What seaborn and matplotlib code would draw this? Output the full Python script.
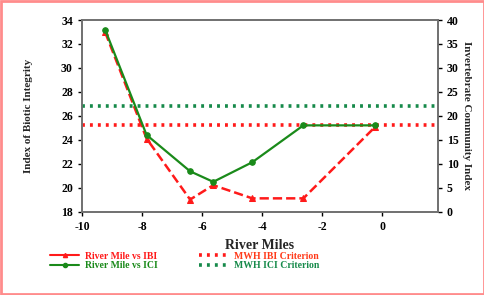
import seaborn as sns
import matplotlib
import matplotlib.pyplot as plt
import pandas as pd
from matplotlib.lines import Line2D
from matplotlib.patches import Rectangle
matplotlib.use('Agg')

river_miles = [-9.23, -7.85, -6.4, -5.63, -4.33, -2.63, -0.23]
ibi = [33.0, 24.1, 19.0, 20.2, 19.1, 19.1, 25.1]
ici = [38, 16, 8.4, 6.2, 10.3, 18, 18]
ibi_criterion = 25.2
ici_criterion = 22
x_ticks = [-10, -8, -6, -4, -2, 0]
left_ticks = [18, 20, 22, 24, 26, 28, 30, 32, 34]
right_ticks = [0, 5, 10, 15, 20, 25, 30, 35, 40]

RED = '#ff1a1a'
GREEN = '#1a8a1a'
TEAL = '#168a4a'

sns.set_style('white')
plt.rcParams['font.family'] = ['Liberation Serif', 'DejaVu Serif']
plt.rcParams['font.weight'] = 'bold'
plt.rcParams['axes.unicode_minus'] = False

df = pd.DataFrame({'mile': river_miles, 'ibi': ibi, 'ici': ici})

fig = plt.figure(figsize=(4.85, 2.95), dpi=100)
ax = fig.add_axes([0.169, 0.283, 0.734, 0.649])
ax2 = ax.twinx()

sns.lineplot(data=df, x='mile', y='ibi', ax=ax, color=RED, linestyle='--',
             linewidth=1.8, marker='^', markersize=4, markeredgecolor=RED)
sns.lineplot(data=df, x='mile', y='ici', ax=ax2, color=GREEN, linewidth=1.6,
             marker='o', markersize=4, markeredgecolor=GREEN)
dots = (0, (0.8, 1.4))
ax.axhline(ibi_criterion, color=RED, linestyle=dots, linewidth=2.6)
ax2.axhline(ici_criterion, color=TEAL, linestyle=dots, linewidth=2.6)

ax.set_xlim(-10, 1.85)
ax.set_ylim(18, 34)
ax2.set_ylim(0, 40)
ax.set_xticks(x_ticks)
ax.set_yticks(left_ticks)
ax2.set_yticks(right_ticks)

for a in (ax, ax2):
    for s in a.spines.values():
        s.set_color('#707070')
        s.set_linewidth(1.2)
    a.tick_params(labelsize=8.5, length=3, width=1, colors='black', direction='out')
    for lab in a.get_xticklabels() + a.get_yticklabels():
        lab.set_fontweight('bold')
ax.tick_params(left=True, bottom=True)
ax2.tick_params(right=True)

ax.set_xlabel('River Miles', fontsize=10, fontweight='bold', labelpad=5)
ax.set_ylabel('Index of Biotic Integrity', fontsize=8, fontweight='bold', labelpad=20)
ax2.set_ylabel('Invertebrate Community Index', fontsize=8, fontweight='bold',
               rotation=-90, labelpad=9)

handles = [
    Line2D([], [], color=RED, linestyle='-', linewidth=1.5, marker='^', markersize=3),
    Line2D([], [], color=GREEN, linestyle='-', linewidth=1.5, marker='o', markersize=3),
    Line2D([], [], color=RED, linestyle=dots, linewidth=2.6),
    Line2D([], [], color=TEAL, linestyle=dots, linewidth=2.6),
]
labels = ['River Mile vs IBI', 'River Mile vs ICI', 'MWH IBI Criterion', 'MWH ICI Criterion']
leg = fig.legend(handles=handles, labels=labels, ncol=2, loc='upper left',
                 bbox_to_anchor=(0.095, 0.16), frameon=False, fontsize=7,
                 handlelength=3, handletextpad=0.6, columnspacing=4.2,
                 labelspacing=0.05, borderaxespad=0)
for t, c in zip(leg.get_texts(), [RED, GREEN, '#ff3a1a', TEAL]):
    t.set_color(c)
    t.set_fontweight('bold')

fig.add_artist(Rectangle((0.003, 0.005), 0.994, 0.99, transform=fig.transFigure,
                         fill=False, edgecolor='#ff8c8c', linewidth=2))

fig.savefig('out.png', dpi=100)
